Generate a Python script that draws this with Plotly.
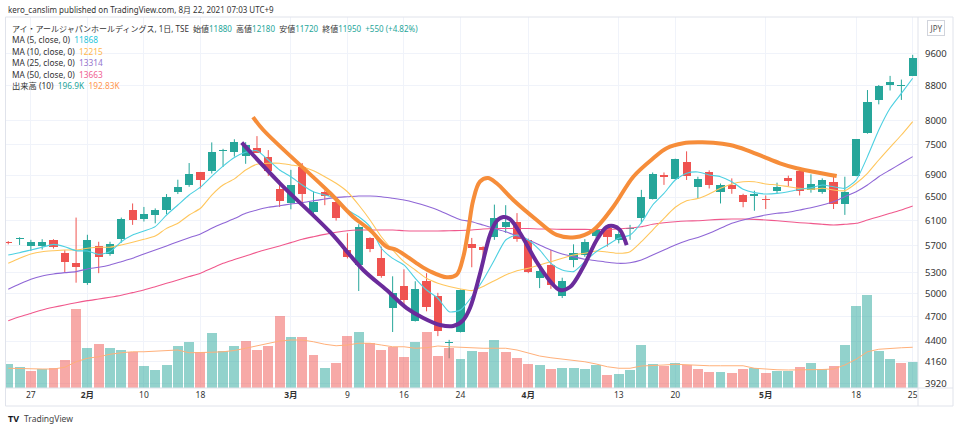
import plotly.graph_objects as go

# ---------------- data ----------------
opens = [5750,5800,5700,5700,5790,5590,5445,5145,5700,5575,
         5800,6285,6120,6195,6280,6600,6720,6955,6970,7370,
         7345,7265,7430,7245,6645,6400,7050,6250,6585,6420,
         5633,5410,5815,5505,4810,5115,4650,5185,4970,4375,
         4510,5720,5685,5840,6000,6080,5795,5225,5410,4975,
         5480,5555,5855,5980,5795,5965,6140,6465,6905,6830,
         7145,6680,6960,6600,6715,6530,6515,6460,6615,6850,
         6970,6627,6600,6765,6385,6890,7740,8460,8800,8790,9030]
highs = [5770,5830,5790,5800,5800,5630,6150,5870,5760,5760,
         6150,6390,6330,6305,6555,6815,7130,6960,7540,7410,
         7605,7545,7670,7385,6810,7000,7130,6600,6620,6450,
         5895,6040,5830,5685,5245,5345,5175,5290,5015,4415,
         5060,5820,5690,6370,6360,6225,5810,5360,5633,5225,
         5720,5800,5980,6020,5970,6030,6630,6950,6950,7215,
         7360,6870,6990,6745,6840,6560,6615,6530,6760,6890,
         7000,6915,6840,6870,6870,7610,8690,8810,9030,8940,9560]
lows = [5720,5710,5620,5640,5655,5305,5155,5125,5290,5545,
        5745,6030,6085,6055,6210,6555,6685,6655,6930,7055,
        7255,7115,7330,6885,6330,6290,6350,6195,6360,6100,
        5505,5040,5600,5225,4510,4850,4640,4770,4460,4200,
        4505,5375,5525,5790,5900,5760,5290,5080,5070,4945,
        5375,5530,5820,5685,5735,5790,6055,6460,6720,6820,
        6810,6485,6655,6390,6560,6325,6265,6295,6560,6690,
        6530,6580,6560,6295,6195,6880,7720,8360,8680,8460,9025]
closes = [5735,5815,5750,5760,5680,5455,5380,5795,5525,5730,
          6130,6110,6215,6280,6510,6680,6915,6815,7355,7380,
          7540,7485,7335,6970,6430,6720,6560,6420,6515,6140,
          5530,5995,5650,5245,5015,4920,5070,4820,4520,4385,
          5055,5665,5640,6140,6080,5805,5300,5315,5125,5185,
          5585,5760,5946,5840,5880,5975,6510,6920,6860,7200,
          6890,6820,6715,6715,6650,6420,6555,6450,6690,6795,
          6615,6745,6810,6380,6600,7600,8410,8780,8870,8800,9470]

ma5 = [5557,5592,5633,5675,5720,5683,5622,5618,5567,5607,
       5761,5866,5930,6001,6193,6363,6538,6679,6878,7070,
       7238,7340,7373,7189,6997,6870,6718,6596,6538,6480,
       6278,6165,6001,5659,5507,5409,5217,5054,4942,4765,
       4787,4963,5193,5482,5788,5866,5788,5633,5433,5336,
       5312,5457,5607,5710,5815,5866,6065,6363,6568,6809,
       6935,6960,6903,6871,6778,6640,6580,6557,6568,6596,
       6640,6669,6718,6687,6658,6809,7255,7798,8271,8613,8972]
ma10 = [5433,5507,5572,5607,5622,5633,5633,5659,5675,5675,
        5710,5752,5799,5850,5973,6055,6193,6307,6538,6718,
        6830,6997,7106,7125,7125,7093,7060,6984,6871,6749,
        6596,6363,6110,5839,5633,5457,5336,5217,5148,5102,
        5068,5045,5102,5183,5264,5326,5361,5409,5457,5507,
        5557,5583,5618,5602,5583,5607,5761,5946,6138,6324,
        6438,6476,6557,6658,6737,6778,6778,6737,6718,6687,
        6658,6640,6658,6627,6614,6749,6935,7189,7440,7693,7979]
ma25 = [5063,5136,5203,5250,5278,5297,5312,5351,5375,5409,
        5457,5507,5572,5633,5695,5761,5824,5882,5973,6055,
        6133,6222,6278,6324,6351,6380,6403,6438,6467,6497,
        6508,6520,6520,6508,6480,6450,6403,6346,6278,6193,
        6115,6082,6028,5973,5919,5850,5788,5710,5633,5572,
        5532,5492,5472,5448,5433,5442,5482,5557,5633,5710,
        5777,5827,5893,5973,6055,6110,6155,6193,6222,6239,
        6278,6317,6363,6420,6508,6596,6718,6871,6997,7125,7255]
ma50 = [4650,4700,4743,4787,4822,4853,4883,4910,4932,4955,
        4982,5018,5054,5099,5146,5193,5241,5290,5361,5433,
        5488,5542,5598,5648,5695,5746,5799,5839,5877,5909,
        5935,5946,5946,5946,5946,5935,5930,5930,5930,5935,
        5938,5946,5962,5970,5970,5970,5970,5962,5962,5957,
        5957,5957,5954,5954,5962,5978,6000,6039,6065,6082,
        6093,6098,6110,6121,6126,6126,6121,6110,6098,6082,
        6065,6055,6039,6028,6039,6055,6110,6165,6222,6278,6346]

volume_k = [190,170,138,152,158,224,632,318,350,318,
            304,286,176,144,184,338,370,286,442,296,
            336,376,304,338,576,406,406,262,162,198,
            416,450,358,304,326,248,366,446,256,322,
            232,296,288,384,288,242,192,184,152,162,
            158,152,182,102,112,144,344,192,178,198,
            184,150,130,126,122,150,158,118,138,138,
            170,198,150,178,342,656,742,298,230,202,206]
volume_up = [1,1,0,1,0,0,0,1,0,1, 1,0,1,1,1,1,1,0,1,1,
             1,0,0,0,0,1,0,0,1,0, 0,1,0,0,0,0,1,0,0,0,
             1,1,0,1,0,0,0,1,0,1, 1,1,1,0,1,1,1,1,0,1,
             0,0,0,1,0,0,1,0,1,1, 0,1,1,0,1,1,1,1,1,0,1]
volume_ma_k = [158,154,152,152,152,166,210,238,250,270,
               282,290,290,294,296,304,282,282,286,290,
               300,318,336,358,376,384,384,370,350,338,
               344,358,358,344,330,330,318,322,336,330,
               324,318,318,318,318,304,278,256,242,230,
               224,210,192,170,158,158,176,178,184,190,
               184,182,178,178,178,178,158,150,146,144,
               144,144,148,152,184,230,290,310,318,322,326]

tick_index = [2,7,12,17,25,30,35,40,46,54,59,67,75,80]
tick_text = ["27","<b>2月</b>","10","18","<b>3月</b>","9","16","24",
             "<b>4月</b>","13","20","<b>5月</b>","18","25"]
price_ticks = [3920,4160,4400,4700,5000,5300,5700,6100,6500,6900,7500,8000,8800,9600]

# hand-drawn annotation curves (bar index, price)
orange_x = [21.65,22.56,28.46,30.49,32.0,33.47,34.36,36.13,37.30,38.78,39.66,40.25,40.69,
            41.13,41.72,42.43,43.2,44.67,46.74,48.51,50.13,51.75,53.52,55.29,57.05,58.24,
            59.71,61.18,62.36,63.84,65.31,66.78,68.26,69.74,71.21,73.28]
orange_y = [8077,7798,6574,6165,5946,5683,5633,5433,5318,5231,5267,5531,5946,
            6450,6778,6847,6749,6450,6110,5867,5830,5946,6334,6871,7222,7421,
            7522,7542,7534,7487,7386,7254,7124,7029,6964,6884]
purple_x = [20.65,24.03,28.46,31.40,33.47,35.24,36.71,38.19,39.36,40.25,40.84,41.72,
            42.61,43.20,43.79,44.38,45.27,46.74,47.92,48.80,49.69,50.86,52.05,52.93,
            53.52,54.11,54.70]
purple_y = [7534,6749,5915,5336,5054,4813,4685,4597,4584,4659,4813,5278,
            5867,6093,6159,6126,5898,5453,5178,5054,5095,5379,5788,5994,
            6010,5946,5709]

# ---------------- styling ----------------
UP, DOWN = "#26a69a", "#ef5350"
VOL_UP, VOL_DOWN = "rgba(38,166,154,0.5)", "rgba(239,83,80,0.5)"
C_MA5, C_MA10, C_MA25, C_MA50 = "#4dd0e1", "#ffc65c", "#8f66d6", "#f0588c"
C_VMA = "#ffb07a"
FONT = "Noto Sans, Noto Sans CJK JP, sans-serif"
TXT = "#131722"

W, H = 960, 430
PL, PR, PT, PB = 6, 918, 17, 388  # plot area in px


def px(x):
    return (x - PL) / (PR - PL)


def py(y):
    return (PB - y) / (PB - PT)


idx = list(range(len(closes)))
fig = go.Figure()

# volume (own hidden axis)
fig.add_trace(go.Bar(
    x=idx, y=volume_k, yaxis="y2", width=0.88,
    marker=dict(color=[VOL_UP if u else VOL_DOWN for u in volume_up], line=dict(width=0)),
    hoverinfo="skip"))
fig.add_trace(go.Scatter(x=idx, y=volume_ma_k, yaxis="y2", mode="lines",
                         line=dict(color=C_VMA, width=1), hoverinfo="skip"))

# candles: wicks + bodies
for want_up, col in [(True, UP), (False, DOWN)]:
    wx, wy = [], []
    for i in idx:
        if (closes[i] >= opens[i]) == want_up:
            wx += [i, i, None]
            wy += [lows[i], highs[i], None]
    fig.add_trace(go.Scatter(x=wx, y=wy, mode="lines", line=dict(color=col, width=1),
                             hoverinfo="skip", connectgaps=False))

body_base = [min(o, c) for o, c in zip(opens, closes)]
body_h = [max(abs(c - o), 0.0035 * min(o, c)) for o, c in zip(opens, closes)]
body_col = [UP if c >= o else DOWN for o, c in zip(opens, closes)]
fig.add_trace(go.Bar(x=idx, y=body_h, base=body_base, width=0.72,
                     marker=dict(color=body_col, line=dict(width=0)), hoverinfo="skip"))

for vals, col in [(ma50, C_MA50), (ma25, C_MA25), (ma10, C_MA10), (ma5, C_MA5)]:
    fig.add_trace(go.Scatter(x=idx, y=vals, mode="lines",
                             line=dict(color=col, width=1.1, shape="spline", smoothing=0.6),
                             hoverinfo="skip"))

fig.add_trace(go.Scatter(x=orange_x, y=orange_y, mode="lines",
                         line=dict(color="#f68d3a", width=4, shape="spline", smoothing=1.0),
                         hoverinfo="skip"))
fig.add_trace(go.Scatter(x=purple_x, y=purple_y, mode="lines",
                         line=dict(color="#6a2b9b", width=4, shape="spline", smoothing=1.0),
                         hoverinfo="skip"))

ann = []
ann.append(dict(x=px(6), y=py(9.5), xref="paper", yref="paper", xanchor="left", yanchor="middle",
                text="kero_canslim published on TradingView.com, 8月 22, 2021 07:03 UTC+9",
                showarrow=False, font=dict(family=FONT, size=8, color="#333333")))

legend_lines = [
    "アイ・アールジャパンホールディングス, 1日, TSE&nbsp;&nbsp;始値<span style='color:#26a69a'>11880</span>"
    "&nbsp;&nbsp;高値<span style='color:#26a69a'>12180</span>&nbsp;&nbsp;安値<span style='color:#26a69a'>11720</span>"
    "&nbsp;&nbsp;終値<span style='color:#26a69a'>11950</span>&nbsp;&nbsp;<span style='color:#26a69a'>+550 (+4.82%)</span>",
    "MA (5, close, 0)&nbsp;&nbsp;<span style='color:#26c6da'>11868</span>",
    "MA (10, close, 0)&nbsp;&nbsp;<span style='color:#ffb74d'>12215</span>",
    "MA (25, close, 0)&nbsp;&nbsp;<span style='color:#9575cd'>13314</span>",
    "MA (50, close, 0)&nbsp;&nbsp;<span style='color:#f06292'>13663</span>",
    "出来高 (10)&nbsp;&nbsp;<span style='color:#26a69a'>196.9K</span>&nbsp;&nbsp;<span style='color:#ff9850'>192.83K</span>",
]
for k, t in enumerate(legend_lines):
    ann.append(dict(x=px(10), y=py(28.5 + 11.4 * k), xref="paper", yref="paper",
                    xanchor="left", yanchor="middle", text=t, showarrow=False,
                    font=dict(family=FONT, size=8.3 if k else 8, color="#333333")))

ann.append(dict(x=px(936.5), y=py(27.5), xref="paper", yref="paper", xanchor="center", yanchor="middle",
                text="JPY", showarrow=False, font=dict(family=FONT, size=8, color="#555555"),
                bordercolor="#d1d4dc", borderwidth=1, borderpad=1.5, bgcolor="white"))
ann.append(dict(x=px(6), y=py(418), xref="paper", yref="paper", xanchor="left", yanchor="middle",
                text="<b>TV</b>", showarrow=False, font=dict(family=FONT, size=9, color="#131722")))
ann.append(dict(x=px(22), y=py(418), xref="paper", yref="paper", xanchor="left", yanchor="middle",
                text="TradingView", showarrow=False, font=dict(family=FONT, size=8.5, color="#444444")))

shapes = [
    dict(type="rect", xref="paper", yref="paper", x0=px(5.5), x1=px(953), y0=py(406), y1=py(17),
         line=dict(color="#e0e3eb", width=1), layer="above"),
    dict(type="line", xref="paper", yref="paper", x0=px(918), x1=px(918), y0=py(406), y1=py(17),
         line=dict(color="#e0e3eb", width=1), layer="above"),
    dict(type="line", xref="paper", yref="paper", x0=px(5.5), x1=px(953), y0=py(388), y1=py(388),
         line=dict(color="#e0e3eb", width=1), layer="above"),
]

fig.update_layout(
    width=W, height=H, paper_bgcolor="white", plot_bgcolor="white",
    margin=dict(l=PL, r=W - PR, t=PT, b=H - PB, pad=0, autoexpand=False),
    showlegend=False, bargap=0, barmode="overlay",
    font=dict(family=FONT, color=TXT),
    annotations=ann, shapes=shapes,
    xaxis=dict(range=[-0.2, 80.47], tickmode="array", tickvals=tick_index, ticktext=tick_text,
               showgrid=True, gridcolor="#f0f3fa", gridwidth=1, zeroline=False, showline=False,
               ticks="", tickfont=dict(family=FONT, size=8.5, color="#333333"), fixedrange=True,
               automargin=False),
    yaxis=dict(type="log", range=[3.58826, 4.02501], side="right", tickmode="array",
               tickvals=price_ticks, ticktext=[str(v) for v in price_ticks],
               showgrid=True, gridcolor="#f0f3fa", gridwidth=1, zeroline=False, showline=False,
               ticks="", ticklabelstandoff=6, automargin=False,
               tickfont=dict(family=FONT, size=9.5, color="#333333")),
    yaxis2=dict(overlaying="y", range=[0, 371 * 8], visible=False, showgrid=False),
)

fig.write_html("out.html", config={"displayModeBar": False, "staticPlot": True},
               post_script="document.body.style.margin='0px';")
